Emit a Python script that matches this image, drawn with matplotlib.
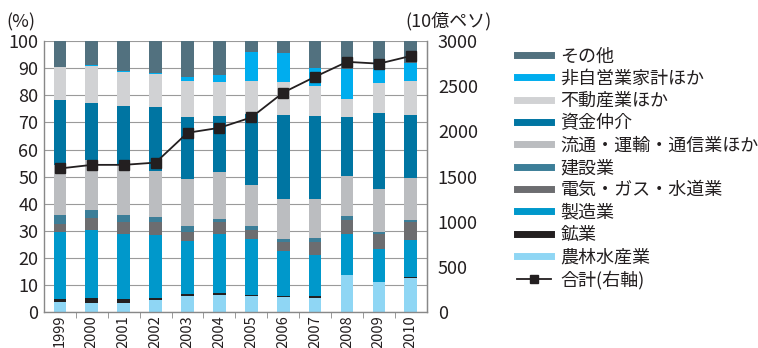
import numpy as np
import matplotlib
matplotlib.use("Agg")
import matplotlib.pyplot as plt
from matplotlib.lines import Line2D

plt.rcParams["font.family"] = ["Noto Sans CJK JP", "DejaVu Sans"]

years = ["1999", "2000", "2001", "2002", "2003", "2004",
         "2005", "2006", "2007", "2008", "2009", "2010"]

# shares by sector (%), bottom to top
agri = [3.6, 3.5, 3.5, 4.4, 5.8, 6.2, 6.1, 5.7, 5.3, 13.6, 11.3, 12.6]
mining = [1.1, 1.6, 1.2, 0.7, 0.8, 0.8, 0.4, 0.4, 0.8, 0.0, 0.0, 0.3]
manuf = [24.7, 25.2, 24.2, 23.5, 19.8, 21.9, 20.5, 16.5, 14.9, 15.3, 12.1, 13.7]
utilities = [3.2, 4.4, 4.4, 4.5, 3.0, 4.2, 3.3, 3.3, 4.9, 5.2, 5.5, 6.5]
construction = [3.4, 3.1, 2.7, 2.1, 2.4, 1.4, 1.6, 1.1, 1.5, 1.5, 0.7, 1.0]
trade = [18.4, 18.4, 18.5, 16.9, 17.2, 17.1, 15.0, 14.9, 14.5, 14.5, 15.7, 15.3]
finance = [23.9, 21.0, 21.6, 23.6, 23.0, 20.9, 26.1, 30.9, 30.5, 21.9, 28.2, 23.4]
realestate = [12.1, 13.7, 12.6, 12.2, 13.3, 12.5, 12.3, 12.2, 11.0, 6.7, 11.0, 12.5]
households = [0.0, 0.3, 0.3, 0.3, 1.4, 2.5, 10.8, 10.7, 6.7, 11.0, 5.2, 6.6]
other = [9.6, 8.8, 11.0, 11.8, 13.3, 12.5, 3.9, 4.3, 9.9, 10.3, 10.3, 8.1]

# total (billion pesos, right axis)
total = [1590, 1630, 1630, 1655, 1985, 2040, 2155, 2430, 2605, 2770, 2750, 2835]

series = [
    ("農林水産業", agri, "#8fd6f4"),
    ("鉱業", mining, "#231f20"),
    ("製造業", manuf, "#0098cb"),
    ("電気・ガス・水道業", utilities, "#6c6d70"),
    ("建設業", construction, "#3c7e98"),
    ("流通・運輸・通信業ほか", trade, "#bbbdc0"),
    ("資金仲介", finance, "#0075a2"),
    ("不動産業ほか", realestate, "#d1d2d4"),
    ("非自営業家計ほか", households, "#00adee"),
    ("その他", other, "#52717f"),
]

fig = plt.figure(figsize=(7.58, 3.48), dpi=100)
ax = fig.add_axes([0.058, 0.103, 0.505, 0.779])

x = np.arange(len(years))
bottom = np.zeros(len(years))
handles = []
for name, vals, color in series:
    ax.bar(x, vals, width=0.4, bottom=bottom, color=color, zorder=2)
    bottom += np.array(vals)
    handles.append(Line2D([], [], color=color, linewidth=5, label=name))

ax.set_xlim(-0.5, len(years) - 0.5)
ax.set_ylim(0, 100)
ax.set_yticks(np.arange(0, 101, 10))
ax.set_xticks(x)
ax.set_xticklabels(years, rotation=90, fontsize=10.5, color="#231f20")
ax.set_xticks(np.arange(0.5, len(years) - 1, 1), minor=True)
ax.tick_params(axis="x", which="major", length=0, pad=2)
ax.tick_params(axis="x", which="minor", length=4, color="#888888", direction="out")
ax.tick_params(axis="y", length=0, labelsize=13, labelcolor="#231f20", pad=4)
ax.grid(axis="y", color="#9a9a9a", linewidth=0.8, zorder=0)
ax.set_axisbelow(True)
for side in ["left", "bottom", "right"]:
    ax.spines[side].set_color("#888888")
    ax.spines[side].set_linewidth(1.0)
ax.spines["top"].set_visible(False)

ax2 = ax.twinx()
ax2.plot(x, total, color="#231f20", linewidth=1.3, marker="s",
         markersize=6.5, zorder=5)
ax2.set_ylim(0, 3000)
ax2.set_yticks(np.arange(0, 3001, 500))
ax2.tick_params(axis="y", length=0, labelsize=13, labelcolor="#231f20", pad=8)
for side in ["left", "bottom", "top"]:
    ax2.spines[side].set_visible(False)
ax2.spines["right"].set_color("#888888")

fig.text(0.008, 0.935, "(%)", fontsize=13, color="#231f20", va="center")
fig.text(0.535, 0.94, "(10億ペソ)", fontsize=13, color="#231f20", va="center")

handles = handles[::-1]
handles.append(Line2D([], [], color="#231f20", linewidth=1.3, marker="s",
                      markersize=6, label="合計(右軸)"))
fig.legend(handles=handles, loc="upper left", bbox_to_anchor=(0.67, 0.89),
           frameon=False, fontsize=13, handlelength=1.9, handletextpad=0.5,
           labelspacing=0.24, borderpad=0, labelcolor="#231f20")

fig.savefig("out.png", dpi=100)
